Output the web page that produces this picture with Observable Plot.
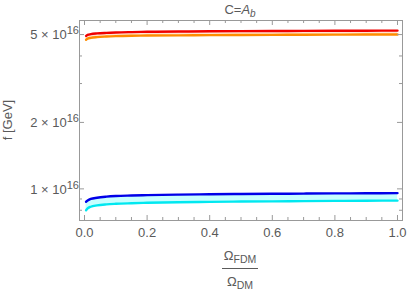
<!DOCTYPE html>
<html>
<head>
<meta charset="utf-8">
<script src="https://cdn.jsdelivr.net/npm/d3@7"></script>
<script src="https://cdn.jsdelivr.net/npm/@observablehq/plot@0.6"></script>
<style>
  html, body { margin: 0; padding: 0; background: #fff; }
  svg { display: block; }
</style>
</head>
<body>
<div id="chart"></div>
<script>
// fraction Omega_FDM / Omega_DM
const xs = [0.005, 0.01, 0.02, 0.04, 0.07, 0.1, 0.15, 0.2, 0.3, 0.4, 0.5, 0.6, 0.7, 0.8, 0.9, 1.0];
// f in units of 10^16 GeV
const red    = [4.93, 4.98, 5.02, 5.06, 5.09, 5.11, 5.13, 5.145, 5.16, 5.175, 5.185, 5.19, 5.195, 5.2, 5.205, 5.21];
const orange = [4.74, 4.79, 4.83, 4.87, 4.90, 4.92, 4.94, 4.95, 4.96, 4.97, 4.98, 4.985, 4.99, 4.995, 5.0, 5.0];
const blue   = [0.875, 0.885, 0.90, 0.912, 0.922, 0.928, 0.933, 0.937, 0.942, 0.945, 0.948, 0.95, 0.952, 0.954, 0.955, 0.957];
const cyan   = [0.80, 0.815, 0.83, 0.842, 0.851, 0.856, 0.861, 0.865, 0.87, 0.873, 0.876, 0.878, 0.88, 0.882, 0.884, 0.885];

const xMajor = [0, 0.2, 0.4, 0.6, 0.8, 1.0];
const xMinor = [0.05, 0.1, 0.15, 0.25, 0.3, 0.35, 0.45, 0.5, 0.55, 0.65, 0.7, 0.75, 0.85, 0.9, 0.95];
const yMajor = [1, 2, 5];
const yMinor = [0.8, 0.9, 3, 4];
const yExponent = "16";

const rows = xs.map((x, i) => ({x, red: red[i], orange: orange[i], blue: blue[i], cyan: cyan[i]}));

const W = 407, H = 292, mL = 79, mR = 5, mT = 20, mB = 72;
const innerH = H - mT - mB;
const gray = "#999";
const txt = "#5a5a5a";

const plot = Plot.plot({
  width: W, height: H,
  marginLeft: mL, marginRight: mR, marginTop: mT, marginBottom: mB,
  style: {fontFamily: "'Liberation Sans', Arial, sans-serif", fontSize: "13px", color: txt, background: "#fff"},
  x: {domain: [-0.016, 1.016]},
  y: {type: "log", domain: [0.719, 5.79]},
  marks: [
    Plot.areaY(rows, {x: "x", y1: "orange", y2: "red", fill: "#ffe4d4"}),
    Plot.areaY(rows, {x: "x", y1: "cyan", y2: "blue", fill: "#c8ffff"}),
    Plot.line(rows, {x: "x", y: "orange", stroke: "#ff8c00", strokeWidth: 2.4, curve: "monotone-x"}),
    Plot.line(rows, {x: "x", y: "red", stroke: "#f00000", strokeWidth: 2.4, curve: "monotone-x"}),
    Plot.line(rows, {x: "x", y: "cyan", stroke: "#00e8f0", strokeWidth: 2.4, curve: "monotone-x"}),
    Plot.line(rows, {x: "x", y: "blue", stroke: "#0000e8", strokeWidth: 2.4, curve: "monotone-x"}),
    Plot.frame({stroke: gray, strokeWidth: 1}),
    // x ticks bottom and top (inward)
    Plot.tickX(xMajor, {x: d => d, insetTop: innerH - 5, stroke: gray}),
    Plot.tickX(xMinor, {x: d => d, insetTop: innerH - 3, stroke: gray}),
    Plot.tickX(xMajor, {x: d => d, insetBottom: innerH - 5, stroke: gray}),
    Plot.tickX(xMinor, {x: d => d, insetBottom: innerH - 3, stroke: gray}),
    // y ticks left and right (inward)
    Plot.tickY(yMajor, {y: d => d, insetRight: W - mL - mR - 5, stroke: gray}),
    Plot.tickY(yMinor, {y: d => d, insetRight: W - mL - mR - 3, stroke: gray}),
    Plot.tickY(yMajor, {y: d => d, insetLeft: W - mL - mR - 5, stroke: gray}),
    Plot.tickY(yMinor, {y: d => d, insetLeft: W - mL - mR - 3, stroke: gray}),
    Plot.axisX(xMajor, {tickSize: 0, tickPadding: 7, tickFormat: d => d3.format(".1f")(d), label: null, fill: txt}),
    Plot.axisY(yMajor, {tickSize: 0, tickPadding: 7, tickFormat: d => `${d} × 10`, label: null, fill: txt})
  ]
});

document.getElementById("chart").appendChild(plot);
const svg = d3.select(plot);

// superscript exponents on y tick labels
svg.selectAll('g[aria-label="y-axis tick label"] text').each(function() {
  const t = d3.select(this);
  const base = t.text();
  t.text(null);
  t.append("tspan").text(base);
  t.append("tspan").attr("dy", "-0.45em").attr("font-size", "11px").text(yExponent);
});
svg.selectAll('g[aria-label="y-axis tick label"]').attr("transform", "translate(0,1)");

// title C=A_b
const title = svg.append("text")
  .attr("x", 240).attr("y", 14)
  .attr("text-anchor", "middle")
  .attr("fill", txt).attr("font-size", "13px");
title.append("tspan").text("C=");
title.append("tspan").attr("font-style", "italic").text("A");
title.append("tspan").attr("font-style", "italic").attr("font-size", "10px").attr("dy", "3").text("b");

// y label
svg.append("text")
  .attr("transform", "translate(12,120) rotate(-90)")
  .attr("text-anchor", "middle")
  .attr("fill", txt).attr("font-size", "13px")
  .text("f [GeV]");

// x label as fraction
const num = svg.append("text").attr("x", 240).attr("y", 260).attr("text-anchor", "middle")
  .attr("fill", txt).attr("font-size", "13px");
num.append("tspan").text("Ω");
num.append("tspan").attr("font-size", "10.5px").attr("dy", "3").text("FDM");
svg.append("line").attr("x1", 222).attr("x2", 258).attr("y1", 268.5).attr("y2", 268.5)
  .attr("stroke", txt).attr("stroke-width", 1);
const den = svg.append("text").attr("x", 240).attr("y", 286).attr("text-anchor", "middle")
  .attr("fill", txt).attr("font-size", "13px");
den.append("tspan").text("Ω");
den.append("tspan").attr("font-size", "10.5px").attr("dy", "3").text("DM");
</script>
</body>
</html>
